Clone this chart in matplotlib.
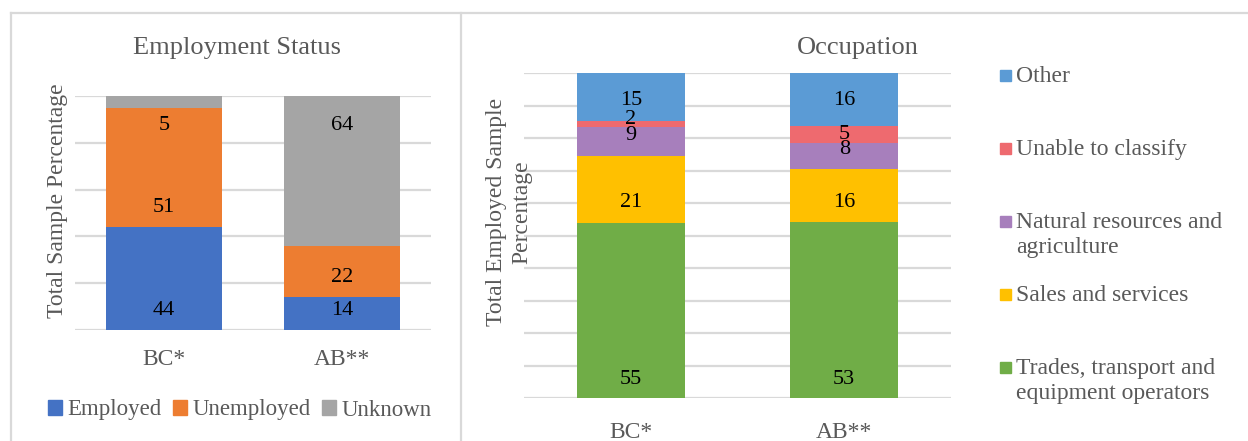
import numpy as np
import matplotlib.pyplot as plt
from matplotlib.lines import Line2D
from matplotlib.patches import Patch, Rectangle

plt.rcParams['font.family'] = ['Liberation Serif', 'DejaVu Serif']

# Employment status (percent of total sample)
regions = ["BC*", "AB**"]
status_names = ["Employed", "Unemployed", "Unknown"]
employed = [44, 14]
unemployed = [51, 22]
unknown = [5, 64]

# Occupation (percent of employed sample), bottom to top
occ_names = ["Trades, transport and\nequipment operators", "Sales and services",
             "Natural resources and\nagriculture", "Unable to classify", "Other"]
trades = [55, 53]
sales = [21, 16]
natural = [9, 8]
unclassified = [2, 5]
other = [15, 16]

status_colors = ["#4472C4", "#ED7D31", "#A5A5A5"]
occ_colors = ["#70AD47", "#FFC000", "#A77FBC", "#EE6A6F", "#5B9BD5"]

GRID = "#D9D9D9"
TEXT = "#595959"

W, H = 1248, 441
fig = plt.figure(figsize=(W / 100, H / 100), dpi=100)


def fx(px):
    return px / W


def fy(px):
    return 1 - px / H


def stacked(ax, series, colors, width, label_pts, pad):
    data = np.array(series, dtype=float)
    pct = data / data.sum(axis=0) * 100
    x = np.arange(data.shape[1])
    bottom = np.zeros(data.shape[1])
    n = len(series)
    for i in range(n):
        ax.bar(x, pct[i], width, bottom=bottom, color=colors[i], zorder=2)
        for j in range(len(x)):
            if i == n - 1:
                # top segment: label sits just inside the bar end
                y, off = bottom[j] + pct[i][j], -label_pts[i]
            else:
                y, off = bottom[j], label_pts[i]
            ax.annotate(f"{int(data[i][j])}", (x[j], y), xytext=(0, off),
                        textcoords="offset points", ha="center", va="center",
                        fontsize=16, color="black", zorder=3)
        bottom += pct[i]
    ax.set_xlim(-0.5, len(x) - 0.5)
    ax.set_ylim(0, 100)
    ax.set_xticks(x)
    ax.set_xticklabels(regions, fontsize=17, color=TEXT)
    ax.tick_params(axis="x", length=0, pad=pad)
    ax.tick_params(axis="y", length=0, labelleft=False)
    for s in ax.spines.values():
        s.set_visible(False)
    ax.yaxis.grid(True, color=GRID, linewidth=1.6, zorder=0)
    ax.set_axisbelow(True)


# left panel
ax1 = fig.add_axes([fx(75), fy(330), fx(356), 234 / H])
ax1.set_yticks(np.arange(0, 101, 20))
stacked(ax1, [employed, unemployed, unknown], status_colors, 0.652,
        [13.7, 14.4, 21], 14)
fig.text(fx(237), fy(48), "Employment Status", ha="center", va="center",
         fontsize=19, color=TEXT)
fig.text(fx(57), fy(201), "Total Sample Percentage", rotation=90,
         ha="center", va="center", fontsize=17, color=TEXT)
handles = [Patch(color=c, label=n) for c, n in zip(status_colors, status_names)]
fig.legend(handles=handles, loc="center", bbox_to_anchor=(fx(240), fy(410)),
           ncol=3, frameon=False, fontsize=16.5, labelcolor=TEXT,
           handlelength=0.6, handleheight=0.6, handletextpad=0.25,
           columnspacing=0.5)

# right panel
ax2 = fig.add_axes([fx(524), fy(398), fx(427), 325 / H])
ax2.set_yticks(np.arange(0, 101, 10))
stacked(ax2, [trades, sales, natural, unclassified, other], occ_colors, 0.506,
        [13, 14.4, 14.4, 5.8, 20], 17)
fig.text(fx(858), fy(48), "Occupation", ha="center", va="center",
         fontsize=19, color=TEXT)
fig.text(fx(509), fy(212), "Total Employed Sample\nPercentage", rotation=90,
         ha="center", va="center", fontsize=17, color=TEXT, linespacing=1.3)

# legend for the occupation panel, one entry per row, square beside first line
leg_y = [75, 148, 221, 294, 367]
for c, name, yy in zip(occ_colors[::-1], occ_names[::-1], leg_y):
    fig.add_artist(Rectangle((fx(1000), fy(yy + 6)), fx(11), 11 / H,
                             color=c, transform=fig.transFigure))
    fig.text(fx(1016), fy(yy - 9), name, ha="left", va="top", fontsize=17,
             color=TEXT, linespacing=1.22)

# chart area borders
for line in [((fx(10.5), fx(1247)), (fy(13), fy(13))),
             ((fx(10.5), fx(10.5)), (fy(13), 0)),
             ((fx(460.5), fx(460.5)), (fy(13), 0))]:
    fig.add_artist(Line2D(line[0], line[1], color=GRID, linewidth=1.6))

fig.savefig("out.png", dpi=100)
